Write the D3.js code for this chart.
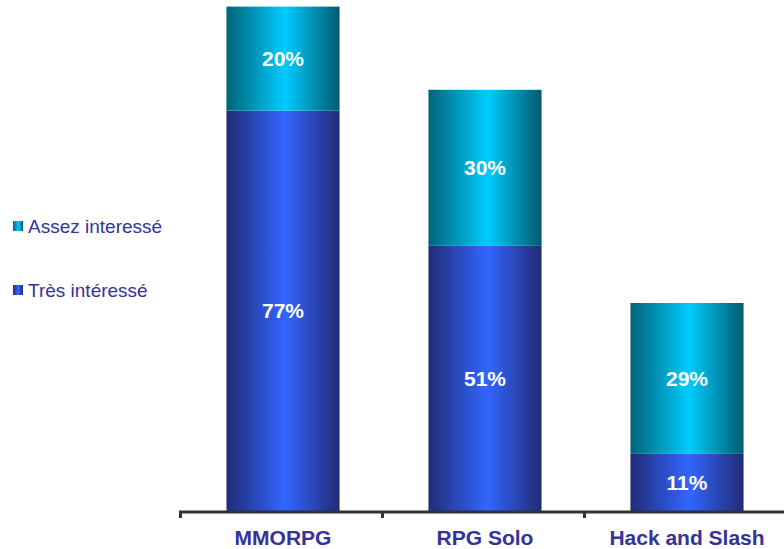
<!DOCTYPE html>
<html>
<head>
<meta charset="utf-8">
<script src="https://cdn.jsdelivr.net/npm/d3@7"></script>
<style>
  html, body { margin: 0; padding: 0; background: #fff; }
  svg { display: block; font-family: Arial, "Liberation Sans", sans-serif; }
</style>
</head>
<body>
<svg id="chart" width="784" height="549"></svg>
<script>
// Survey data: interest per game genre (percent)
const categories = ["MMORPG", "RPG Solo", "Hack and Slash"];
const tresInteresse = [77, 51, 11];
const assezInteresse = [20, 30, 29];
const seriesNames = ["Très intéressé", "Assez interessé"];

const svg = d3.select("#chart");
const W = 784, H = 549;
const left = 181, right = 787, base = 511;

const x = d3.scaleBand().domain(categories).range([left, right]).paddingInner(0.44).paddingOuter(0.22);
const y = d3.scaleLinear().domain([0, 100]).range([base, -9]);

// Horizontal shading gradients for the two series
const defs = svg.append("defs");
function grad(id, edgeL, mid, edgeR) {
  const g = defs.append("linearGradient").attr("id", id)
    .attr("x1", "0%").attr("x2", "100%").attr("y1", "0%").attr("y2", "0%");
  g.append("stop").attr("offset", "0%").attr("stop-color", edgeL);
  g.append("stop").attr("offset", "52%").attr("stop-color", mid);
  g.append("stop").attr("offset", "100%").attr("stop-color", edgeR);
}
grad("gBlue", "#202c78", "#3366ff", "#212b74");
grad("gCyan", "#006478", "#00ccff", "#005a6e");

const stackData = categories.map((c, i) => ({ cat: c, tres: tresInteresse[i], assez: assezInteresse[i] }));
const stack = d3.stack().keys(["tres", "assez"])(stackData);
const fills = ["url(#gBlue)", "url(#gCyan)"];

const layers = svg.append("g").selectAll("g").data(stack).join("g")
  .attr("fill", (d, i) => fills[i]);

layers.selectAll("rect").data(d => d).join("rect")
  .attr("x", d => x(d.data.cat) + 1)
  .attr("width", x.bandwidth())
  .attr("y", d => y(d[1]))
  .attr("height", d => y(d[0]) - y(d[1]));

// Value labels centred in each segment
layers.selectAll("text").data(d => d).join("text")
  .attr("x", d => x(d.data.cat) + 1 + x.bandwidth() / 2)
  .attr("y", d => (y(d[0]) + y(d[1])) / 2)
  .attr("dy", "0.36em")
  .attr("text-anchor", "middle")
  .attr("fill", "#ffffff")
  .attr("font-weight", "bold")
  .attr("font-size", 21)
  .text(d => (d[1] - d[0]) + "%");

// Category axis
const axis = svg.append("g").attr("transform", `translate(0,${base + 1})`);
axis.append("line").attr("x1", left - 2).attr("x2", W).attr("y1", 0).attr("y2", 0)
  .attr("stroke", "#333333").attr("stroke-width", 3);
const tickPos = [left, left + x.step(), left + 2 * x.step()].map(v => v - 0.5);
axis.selectAll("line.tick").data(tickPos).join("line").attr("class", "tick")
  .attr("x1", d => d).attr("x2", d => d).attr("y1", 0).attr("y2", 6)
  .attr("stroke", "#333333").attr("stroke-width", 3);
axis.selectAll("text").data(categories).join("text")
  .attr("x", d => x(d) + 1 + x.bandwidth() / 2)
  .attr("y", 33)
  .attr("text-anchor", "middle")
  .attr("fill", "#333399")
  .attr("font-weight", "bold")
  .attr("font-size", 21)
  .text(d => d);

// Legend
const legendItems = [
  { name: seriesNames[1], fill: "url(#gCyan)", y: 226 },
  { name: seriesNames[0], fill: "url(#gBlue)", y: 290 }
];
const lg = svg.append("g").selectAll("g").data(legendItems).join("g")
  .attr("transform", d => `translate(13,${d.y})`);
lg.append("rect").attr("x", 0).attr("y", -5).attr("width", 10).attr("height", 10)
  .attr("fill", d => d.fill);
lg.append("text").attr("x", 15).attr("y", 0).attr("dy", "0.36em")
  .attr("fill", "#333399").attr("font-size", 19).text(d => d.name);
</script>
</body>
</html>
